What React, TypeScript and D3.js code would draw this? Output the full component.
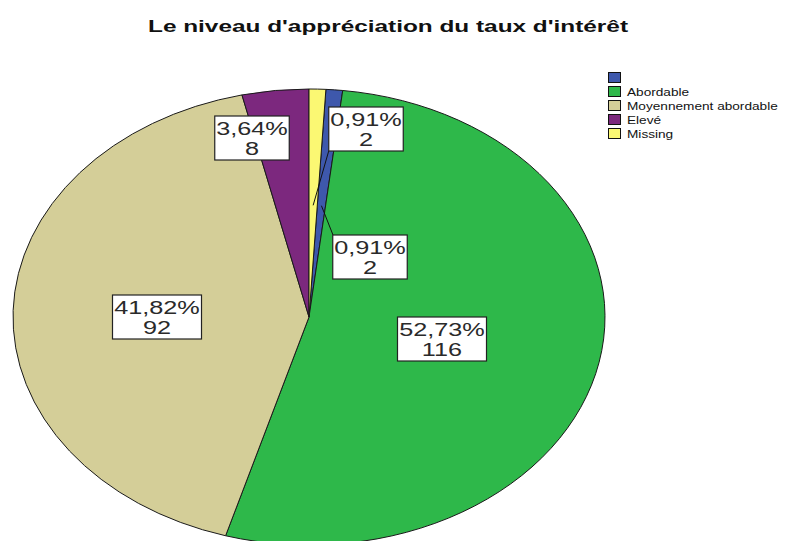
import React from "react";
import * as d3 from "d3";

// ---- data ----
const categories: string[] = ["", "Abordable", "Moyennement abordable", "Elevé", "Missing"];
const counts: number[] = [2, 116, 92, 8, 2];
const colors: string[] = ["#3E58AC", "#2EB84A", "#D4CE98", "#7C287E", "#FBF873"];
const title = "Le niveau d'appréciation du taux d'intérêt";

// ---- layout ----
const W = 791;
const H = 541;
const CX = 309;
const CY = 317;
const RY = 228;
const RX = 296;
const SX = RX / RY;
// label box centres (layout only)
const labelPos: [number, number][] = [
  [370, 257],
  [442, 339],
  [157, 317],
  [252, 138],
  [366, 129],
];
// leader line end (box corner) for small slices: index -> [x, y]
const leaderEnds: Record<number, [number, number]> = {
  0: [333, 235],
  4: [329, 150],
};

export default function App() {
  const total = d3.sum(counts);
  const startOffset = (2 * Math.PI * counts[counts.length - 1]) / total;
  const pie = d3
    .pie<number>()
    .sort(null)
    .value((d) => d)
    .startAngle(startOffset)
    .endAngle(2 * Math.PI + startOffset);
  const arcs = pie(counts);
  const arc = d3.arc<d3.PieArcDatum<number>>().innerRadius(0).outerRadius(RY);

  const pct = (c: number) => ((c / total) * 100).toFixed(2).replace(".", ",") + "%";
  const ellipsePoint = (angle: number, f: number): [number, number] => [
    CX + RX * f * Math.sin(angle),
    CY - RY * f * Math.cos(angle),
  ];

  const labelScale = 1.33;
  const fs = 19;

  return (
    <svg
      width={W}
      height={H}
      style={{ position: "absolute", left: 0, top: 0, background: "#fff" }}
      fontFamily="'Liberation Sans', Arial, sans-serif"
    >
      <rect x={0} y={0} width={W} height={H} fill="#fff" />
      <text
        x={148}
        y={32}
        fontSize={16}
        fontWeight="bold"
        fill="#111"
        textLength={480}
        lengthAdjust="spacingAndGlyphs"
      >
        {title}
      </text>

      <g transform={`translate(${CX},${CY}) scale(${SX},1)`}>
        {arcs.map((a, i) => (
          <path
            key={i}
            d={arc(a) || ""}
            fill={colors[i]}
            stroke="#1a1a1a"
            strokeWidth={1}
            vectorEffect="non-scaling-stroke"
          />
        ))}
      </g>

      {arcs.map((a, i) => {
        const end = leaderEnds[i];
        if (!end) return null;
        const mid = (a.startAngle + a.endAngle) / 2;
        const [x0, y0] = ellipsePoint(mid, 0.49);
        return <line key={"l" + i} x1={x0} y1={y0} x2={end[0]} y2={end[1]} stroke="#111" strokeWidth={1} />;
      })}

      {arcs.map((a, i) => {
        const [lx, ly] = labelPos[i];
        const l1 = pct(counts[i]);
        const l2 = String(counts[i]);
        const bw = 14.5 * Math.max(l1.length, l2.length) + 2;
        const bh = 44;
        return (
          <g key={"t" + i}>
            <rect
              x={lx - bw / 2}
              y={ly - bh / 2}
              width={bw}
              height={bh}
              fill="#fff"
              stroke="#222"
              strokeWidth={1.2}
            />
            <g transform={`translate(${lx},${ly}) scale(${labelScale},1)`}>
              <text x={0} y={-3.5} fontSize={fs} textAnchor="middle" fill="#2a2a2a">
                {l1}
              </text>
              <text x={0} y={17} fontSize={fs} textAnchor="middle" fill="#2a2a2a">
                {l2}
              </text>
            </g>
          </g>
        );
      })}

      <g>
        {categories.map((c, i) => {
          const y = 72 + i * 14;
          return (
            <g key={"lg" + i}>
              <rect x={608.5} y={y + 0.5} width={12} height={10} fill={colors[i]} stroke="#111" strokeWidth={1} />
              <g transform={`translate(627,${y + 9.5}) scale(1.3,1)`}>
                <text x={0} y={0} fontSize={10.5} fill="#111">
                  {c}
                </text>
              </g>
            </g>
          );
        })}
      </g>
    </svg>
  );
}
